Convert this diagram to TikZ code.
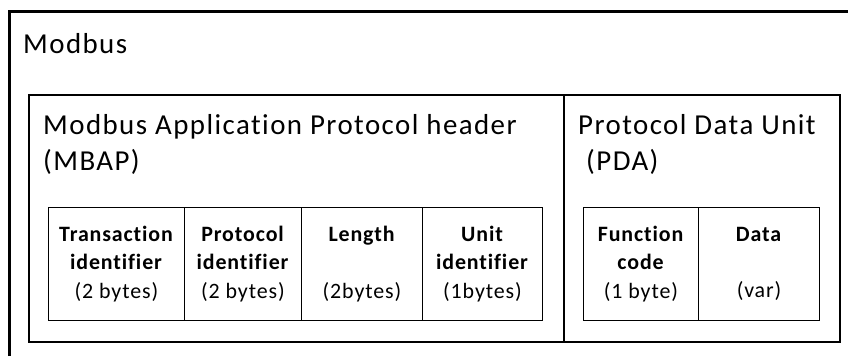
\documentclass[tikz,border=0pt]{standalone}
\usepackage{fontspec}
\setmainfont{Carlito}[Ligatures=NoCommon]
\newfontfamily\headfont{Carlito}[LetterSpace=5,Ligatures=NoCommon]
\newfontfamily\fieldfont{Carlito}[LetterSpace=4,Ligatures=NoCommon]
\begin{document}
\begin{tikzpicture}[x=1bp,y=-1bp,
  frame/.style={line width=3bp},
  group/.style={draw, line width=1.7bp, anchor=north west, inner sep=0pt, minimum height=247bp},
  field/.style={draw, line width=1bp, anchor=north west, inner sep=2bp, minimum height=113bp, align=center,
     font=\fieldfont\fontsize{22}{28.5}\selectfont},
  head/.style={anchor=base west, inner sep=0pt, align=left, font=\headfont\fontsize{29}{36}\selectfont}]
\useasboundingbox (0,0) rectangle (848,356);
\fill[white] (0,0) rectangle (848,356);
% outer frame (open to the right and bottom)
\coordinate (fbl) at (9,356);
\coordinate (ftl) at (9,11);
\coordinate (ftr) at (848,11);
\draw[frame] (fbl) -- (ftl) -- (ftr);
\node[head] (title) at (23,53) {Modbus};
% groups
\node[group, minimum width=535bp] (mbap) at (28,94) {};
\node[group, minimum width=276bp] (pdu) at (563,94) {};
\node[head] (mbaptxt) at (43,170) {Modbus Application Protocol header\\(MBAP)};
\node[head] (pdutxt) at (578,170) {Protocol Data Unit\\\ (PDA)};
% MBAP fields
\node[field, minimum width=136bp] (tid) at (48,207) {\textbf{Transaction}\\\textbf{identifier}\\(2 bytes)};
\node[field, minimum width=117bp] (pid) at (184,207) {\textbf{Protocol}\\\textbf{identifier}\\(2 bytes)};
\node[field, minimum width=121bp] (len) at (301,207) {\textbf{Length}\\\mbox{}\\(2bytes)};
\node[field, minimum width=120bp] (uid) at (422,207) {\textbf{Unit}\\\textbf{identifier}\\(1bytes)};
% PDU fields
\node[field, minimum width=115bp] (fc) at (583,207) {\textbf{Function}\\\textbf{code}\\(1 byte)};
\node[field, minimum width=121bp] (data) at (698,207) {\textbf{Data}\\\mbox{}\\(var)};
\end{tikzpicture}
\end{document}
